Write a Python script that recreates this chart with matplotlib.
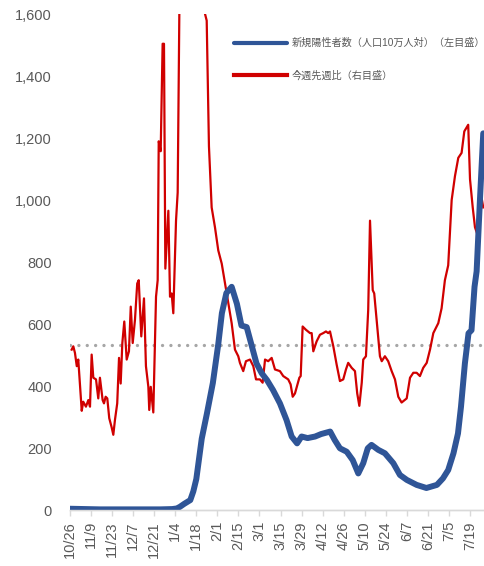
import matplotlib.pyplot as plt
import numpy as np

# 日付は 2020/10/26 からの経過日数
tick_days = list(range(0, 267, 14))
tick_labels = ['10/26', '11/9', '11/23', '12/7', '12/21', '1/4', '1/18', '2/1', '2/15', '3/1',
               '3/15', '3/29', '4/12', '4/26', '5/10', '5/24', '6/7', '6/21', '7/5', '7/19']

# 新規陽性者数（人口10万人対）
blue_day = [0, 10, 20, 30, 40, 50, 60, 68, 71, 73, 76, 80, 82, 84, 87.6, 91, 95, 98.6, 101, 104,
            107.5, 111, 114, 117.5, 121, 124, 127.5, 131, 135, 139.6, 144, 147.4, 151, 154, 158,
            163, 167, 173, 176, 179.5, 184, 188, 191.7, 195, 198, 200.5, 205, 209.4, 215, 219.4,
            224, 230.5, 237, 244, 248, 251.5, 255, 258, 260, 262.6, 265, 267, 269, 270.4, 272.6, 274.8]
blue_val = [4, 3, 2, 2, 2, 2, 2, 3, 5, 10, 20, 32, 60, 100, 230, 310, 410, 535, 635, 700,
            720, 665, 595, 590, 527, 473, 441, 419, 387, 344, 290, 237, 215, 237, 232,
            237, 245, 253, 226, 199, 188, 161, 118, 151, 199, 210, 194, 183, 151, 113,
            97, 81, 71, 81, 102, 129, 183, 247, 333, 473, 570, 580, 720, 770, 1000, 1215]

# 今週先週比（倍）
red_day = [1.1, 2.2, 3.3, 4.5, 5.5, 7.8, 8.8, 10.6, 12.2, 13.3, 14.4, 15.5, 17.3, 18.8, 19.9,
           21.7, 22.6, 23.7, 24.8, 26.1, 27.7, 28.8, 29.9, 31.4, 32.6, 33.7, 34.8, 36.1, 37.7,
           39.2, 40.4, 41.7, 43.2, 44.7, 45.7, 47.4, 49.2, 50.5, 52.1, 52.7, 53.7, 55.4, 57.2,
           58.3, 59.0, 60.3, 61.6, 62.5, 63.4, 65.4, 66.5, 67.6, 68.7, 70.5, 71.6, 72.7, 78, 84,
           89.8, 90.9, 92.4, 94.2, 96.4, 98.6, 100.9, 103.1, 105.3, 107.5, 109.7, 111.9, 113.0,
           115.2, 117.0, 119.7, 121.9, 123.7, 126.3, 128.1, 129.7, 131.8, 134.1, 136.3, 139.6,
           141.8, 145.1, 146.7, 148.1, 149.6, 152.5, 153.4, 154.7, 156.9, 159.6, 160.7, 161.8,
           164.0, 166.2, 168.4, 170.2, 171.7, 172.9, 175.1, 177.3, 179.5, 181.7, 183.5, 185.0,
           187.3, 189.5, 191.0, 192.4, 194.0, 195.0, 196.8, 198.3, 199.5, 201.3, 202.3, 204.3,
           206.1, 207.3, 209.4, 211.6, 213.9, 216.1, 218.3, 220.5, 223.9, 226.1, 228.3, 230.5,
           232.7, 234.9, 237.2, 239.4, 241.6, 244.9, 247.1, 249.3, 251.5, 253.8, 256.0, 258.2,
           260.4, 262.2, 264.8, 266.0, 267.8, 269.3, 270.8, 272.1, 273.1, 274.8]
red_val = [0.97, 0.99, 0.95, 0.87, 0.91, 0.60, 0.655, 0.625, 0.665, 0.625, 0.94, 0.80, 0.79, 0.675, 0.80,
           0.665, 0.645, 0.685, 0.675, 0.555, 0.50, 0.455, 0.545, 0.645, 0.92, 0.765, 1.01, 1.14, 0.91,
           0.96, 1.23, 1.01, 1.15, 1.37, 1.39, 1.05, 1.28, 0.87, 0.745, 0.605, 0.745, 0.59, 1.29,
           1.39, 2.23, 2.17, 2.82, 2.82, 1.46, 1.81, 1.29, 1.31, 1.19, 1.75, 1.92, 3.0, 3.7, 3.7,
           3.0, 2.96, 2.20, 1.83, 1.71, 1.57, 1.49, 1.37, 1.25, 1.13, 0.97, 0.93, 0.89,
           0.84, 0.90, 0.91, 0.87, 0.79, 0.79, 0.77, 0.91, 0.90, 0.92, 0.85, 0.84,
           0.81, 0.79, 0.76, 0.685, 0.705, 0.80, 0.81, 1.11, 1.09, 1.07, 1.07, 0.96,
           1.02, 1.06, 1.07, 1.08, 1.07, 1.08, 0.99, 0.88, 0.78, 0.79, 0.85, 0.89,
           0.86, 0.84, 0.705, 0.63, 0.77, 0.91, 0.93, 1.21, 1.75, 1.33, 1.31, 1.11,
           0.93, 0.90, 0.93, 0.90, 0.84, 0.79, 0.685, 0.65, 0.675, 0.80, 0.83, 0.83,
           0.81, 0.86, 0.89, 0.97, 1.07, 1.13, 1.22, 1.39, 1.48, 1.875, 2.02, 2.13,
           2.16, 2.29, 2.33, 2.0, 1.83, 1.71, 1.67, 1.65, 1.92, 1.83]

plt.rcParams['font.family'] = ['Liberation Sans', 'Noto Sans CJK JP']
gray = '#595959'

fig = plt.figure(figsize=(4.84, 5.66), dpi=100)
ax = fig.add_axes([70 / 484, 1 - 510 / 566, 1 - 70 / 484, (510 - 14) / 566])
ax2 = ax.twinx()
ax.set_zorder(ax2.get_zorder() + 1)
ax.patch.set_visible(False)

# 右目盛（非表示）
ax2.axhline(1.0, color='#A6A6A6', lw=2.4, linestyle=(0, (0.01, 2.5)), dash_capstyle='round', zorder=1)
l2, = ax2.plot(red_day, red_val, color='#D00000', lw=1.6, label='今週先週比（右目盛）', zorder=2)
ax2.set_ylim(0, 3)
ax2.set_yticks([])

l1, = ax.plot(blue_day, blue_val, color='#2F5597', lw=4.3, label='新規陽性者数（人口10万人対）（左目盛）',
              solid_joinstyle='round', solid_capstyle='round')
ax.set_ylim(0, 1600)
ax.set_yticks(np.arange(0, 1601, 200))
ax.set_yticklabels([f'{v:,}' for v in range(0, 1601, 200)])
ax.set_xlim(0, 275.3)
ax.set_xticks(tick_days)
ax.set_xticklabels(tick_labels, rotation=90)

for a in (ax, ax2):
    for s in ['top', 'right', 'left']:
        a.spines[s].set_visible(False)
    a.spines['bottom'].set_color('#D9D9D9')
    a.spines['bottom'].set_linewidth(1.0)
ax.tick_params(axis='y', length=0, pad=13, labelsize=10.5, labelcolor=gray)
ax.tick_params(axis='x', length=4, width=1, color='#D9D9D9', pad=4, labelsize=10.5, labelcolor=gray)

leg = ax.legend(handles=[l1, l2], loc='upper left', bbox_to_anchor=(229 / 484, 1 - 33 / 566),
                bbox_transform=fig.transFigure, frameon=False, fontsize=7.3, borderpad=0,
                handlelength=5.2, handletextpad=0.5, labelspacing=2.2, labelcolor=gray)
for line in leg.get_lines():
    line.set_linewidth(3)

fig.savefig('out.png', dpi=100)
